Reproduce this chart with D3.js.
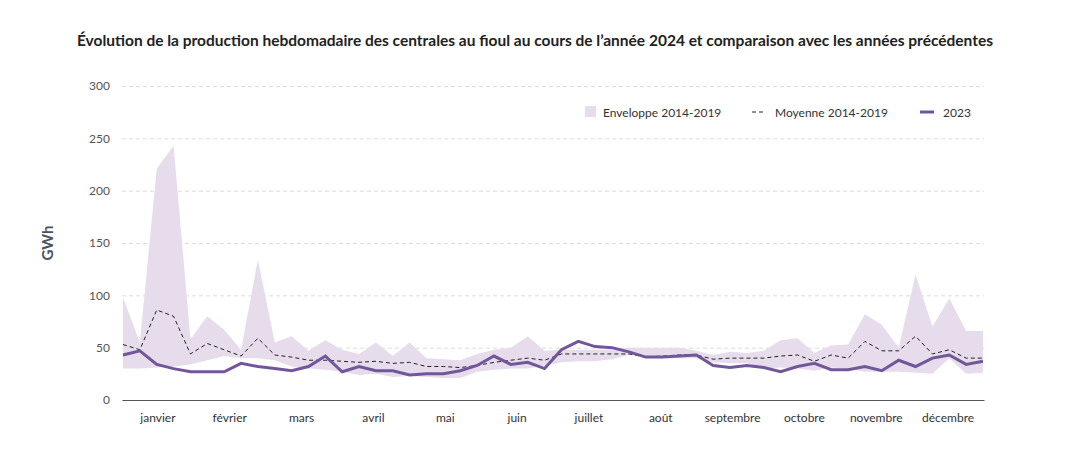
<!DOCTYPE html><html><head><meta charset="utf-8"><script src="https://cdn.jsdelivr.net/npm/d3@7"></script>
<style>body{margin:0;background:#fff;font-family:Lato,"Open Sans",sans-serif}</style></head><body><svg id="c" width="1090" height="467"></svg>
<script>
const months=["janvier","février","mars","avril","mai","juin","juillet","août","septembre","octobre","novembre","décembre"];
const yTicks=[0,50,100,150,200,250,300];
const s2023=[43,47,34,30,27,27,27,35,32,30,28,32,42,27,32,28,28,24,25,25,28,33,42,34,36,30,48,56,51,50,46,41,41,42,43,33,31,33,31,27,32,35,29,29,32,28,38,32,40,43,34,37];
const mean=[53,48,86,80,44,54,48,42,59,43,41,38,38,37,36,37,35,36,32,32,31,33,36,38,40,38,44,44,44,44,44,41,42,43,43,39,40,40,40,42,43,37,43,40,56,47,47,61,44,48,40,40];
const upper=[98,55,221,243,58,80,67,48,134,55,61,47,57,48,44,55,42,55,40,39,38,44,48,50,61,47,48,48,48,48,50,50,50,50,47,43,46,45,47,57,59,45,52,53,82,72,50,120,70,97,66,66];
const lower=[30,30,31,32,34,38,42,40,40,38,32,30,29,27,24,25,22,23,22,21,21,27,29,30,30,33,36,37,37,39,43,42,40,40,40,36,35,35,30,31,30,28,31,30,27,27,27,26,25,40,25,26];
const svg=d3.select("#c");
const L=122,R=984,T=86,B=400;
const x=d3.scaleLinear().domain([0,51]).range([L+1,R-1]);
const xm=d3.scaleBand().domain(months).range([L,R]);
const y=d3.scaleLinear().domain([0,300]).range([B,T]);
svg.append("text").attr("x",535).attr("y",46).attr("text-anchor","middle").attr("font-weight","bold").attr("font-size",15.5).attr("fill","#222").text("Évolution de la production hebdomadaire des centrales au fioul au cours de l’année 2024 et comparaison avec les années précédentes");
const ya=svg.append("g").attr("transform",`translate(${L},0)`).call(d3.axisLeft(y).tickValues(yTicks).tickSize(-(R-L)).tickPadding(12));
ya.select(".domain").remove();
ya.selectAll("line").attr("stroke","#ddd").attr("stroke-dasharray","4,3");
ya.selectAll("text").attr("font-size",12).attr("fill","#555").attr("font-family","Lato");
svg.append("text").attr("transform","translate(53,243) rotate(-90)").attr("text-anchor","middle").attr("font-weight","bold").attr("font-size",15).attr("fill","#4a5060").text("GWh");
const idx=d3.range(52);
svg.append("path").datum(idx).attr("fill","#e6dcec").attr("d",d3.area().x(i=>x(i)).y0(i=>y(lower[i])).y1(i=>y(upper[i])));
svg.append("path").datum(idx).attr("fill","none").attr("stroke","#222").attr("stroke-width",1).attr("stroke-dasharray","4,3").attr("d",d3.line().x(i=>x(i)).y(i=>y(mean[i])));
svg.append("path").datum(idx).attr("fill","none").attr("stroke","#71579a").attr("stroke-width",3).attr("d",d3.line().x(i=>x(i)).y(i=>y(s2023[i])));
const xa=svg.append("g").attr("transform",`translate(0,${B})`).call(d3.axisBottom(xm).tickSize(0).tickPadding(13));
xa.select(".domain").attr("stroke","#555");
xa.selectAll("text").attr("font-size",12).attr("fill","#333").attr("font-family","Lato");
const lg=svg.append("g").attr("font-size",12).attr("fill","#333");
lg.append("rect").attr("x",585).attr("y",106).attr("width",11).attr("height",11).attr("fill","#e6dcec");
lg.append("text").attr("x",603).attr("y",117).attr("fill","#333").text("Enveloppe 2014-2019");
lg.append("line").attr("x1",752).attr("x2",766).attr("y1",112).attr("y2",112).attr("stroke","#222").attr("stroke-dasharray","4,3");
lg.append("text").attr("x",775).attr("y",117).attr("fill","#333").text("Moyenne 2014-2019");
lg.append("line").attr("x1",920).attr("x2",934).attr("y1",112).attr("y2",112).attr("stroke","#71579a").attr("stroke-width",3);
lg.append("text").attr("x",943).attr("y",117).attr("fill","#333").text("2023");
</script></body></html>
